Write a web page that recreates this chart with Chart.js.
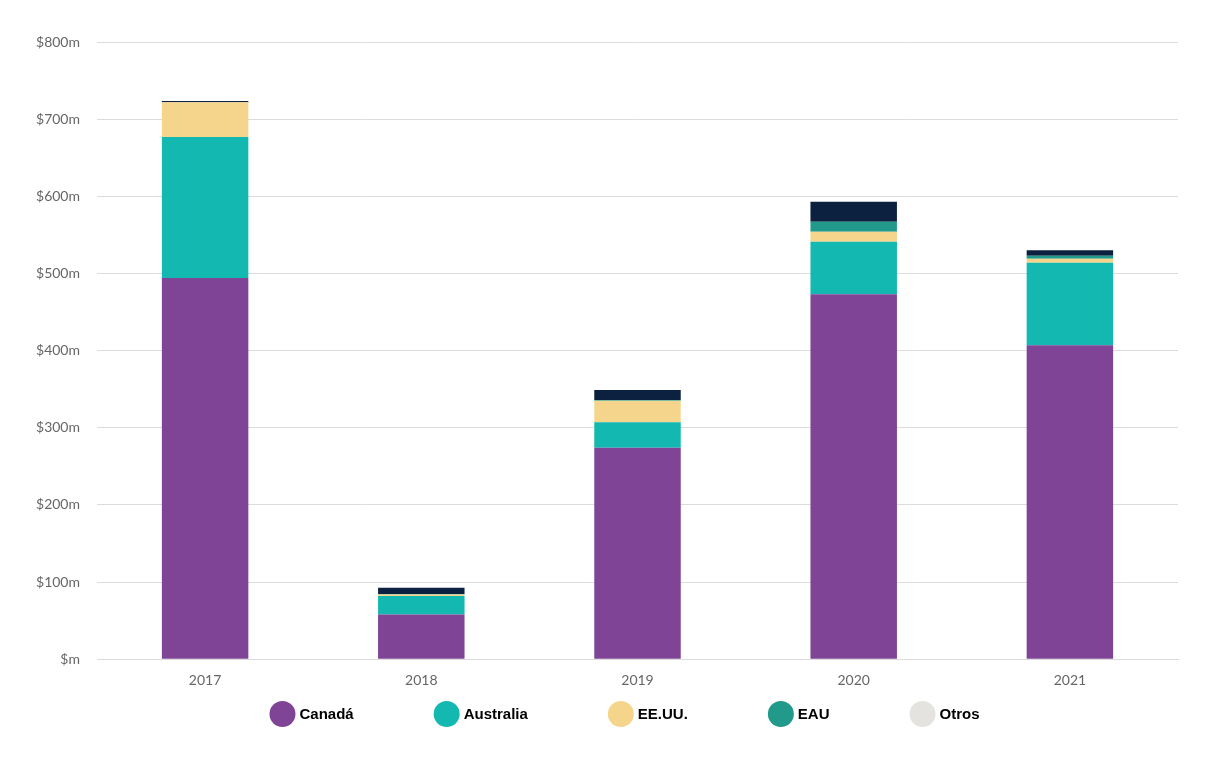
<!DOCTYPE html>
<html lang="es">
<head>
    <meta charset="UTF-8">
    <title>Inversiones por país</title>
    <script src="https://cdn.jsdelivr.net/npm/chart.js"></script>
    <style>
        body {
            margin: 0;
            background-color: #ffffff;
        }

        .chart-container {
            width: 1222px;
            height: 780px;
        }
    </style>
</head>
<body>
    <div class="chart-container">
        <canvas id="investChart"></canvas>
    </div>

    <script>
        // Data (millions of dollars)
        const years = ['2017', '2018', '2019', '2020', '2021'];
        const canada = [494, 58, 274, 473, 407];
        const australia = [183, 24, 33, 68, 107];
        const usa = [45, 2, 28, 13, 5];
        const uae = [0, 0.5, 1, 13, 4];
        const others = [1.5, 8, 13, 26, 7];

        const seriesNames = ['Canadá', 'Australia', 'EE.UU.', 'EAU', 'Otros'];
        const barColors = ['#7f4496', '#13b9b1', '#f5d58b', '#229a8b', '#0c2140'];
        const legendColors = ['#7f4496', '#13b9b1', '#f5d58b', '#229a8b', '#e4e3df'];
        const yTicks = [0, 100, 200, 300, 400, 500, 600, 700, 800];

        const seriesValues = [canada, australia, usa, uae, others];

        const datasets = seriesValues.map((values, i) => ({
            label: seriesNames[i],
            data: values,
            backgroundColor: barColors[i],
            borderWidth: 0,
            barPercentage: 0.4,
            categoryPercentage: 1
        }));

        // Simple legend drawn under the chart area: filled circle + bold label
        const circleLegend = {
            id: 'circleLegend',
            afterDraw(chart) {
                const ctx = chart.ctx;
                const area = chart.chartArea;
                const radius = 13;
                const gap = 80;
                const y = 714;
                ctx.save();
                ctx.font = 'bold 15px "Liberation Sans", Arial, sans-serif';
                ctx.textBaseline = 'middle';
                const widths = seriesNames.map(name => ctx.measureText(name).width);
                let total = 0;
                widths.forEach((w, i) => {
                    total += radius * 2 + 4 + w;
                    if (i < widths.length - 1) total += gap;
                });
                let x = (area.left + area.right) / 2 - 13 - total / 2;
                seriesNames.forEach((name, i) => {
                    ctx.fillStyle = legendColors[i];
                    ctx.beginPath();
                    ctx.arc(x + radius, y, radius, 0, Math.PI * 2);
                    ctx.fill();
                    ctx.fillStyle = '#000000';
                    ctx.textAlign = 'left';
                    ctx.fillText(name, x + radius * 2 + 4, y + 1);
                    x += radius * 2 + 4 + widths[i] + gap;
                });
                ctx.restore();
            }
        };

        const investConfig = {
            type: 'bar',
            data: {
                labels: years,
                datasets: datasets
            },
            options: {
                responsive: true,
                maintainAspectRatio: false,
                animation: false,
                layout: {
                    padding: { top: 42, right: 44, bottom: 78, left: 0 }
                },
                plugins: {
                    legend: { display: false },
                    tooltip: { enabled: false }
                },
                scales: {
                    x: {
                        stacked: true,
                        grid: {
                            display: false,
                            drawTicks: false
                        },
                        border: {
                            color: '#dcdcdc'
                        },
                        ticks: {
                            color: '#666666',
                            padding: 13,
                            font: { family: 'Lato', size: 14 }
                        }
                    },
                    y: {
                        stacked: true,
                        min: 0,
                        max: 800,
                        afterFit(scale) {
                            scale.width = 97;
                        },
                        afterBuildTicks(scale) {
                            scale.ticks = yTicks.map(v => ({ value: v }));
                        },
                        grid: {
                            color: '#dcdcdc',
                            drawTicks: false
                        },
                        border: {
                            display: false
                        },
                        ticks: {
                            color: '#666666',
                            padding: 17,
                            font: { family: 'Lato', size: 14 },
                            callback: value => value === 0 ? '$m' : '$' + value + 'm'
                        }
                    }
                }
            },
            plugins: [circleLegend]
        };

        const investChart = new Chart(
            document.getElementById('investChart'),
            investConfig
        );
    </script>
</body>
</html>
